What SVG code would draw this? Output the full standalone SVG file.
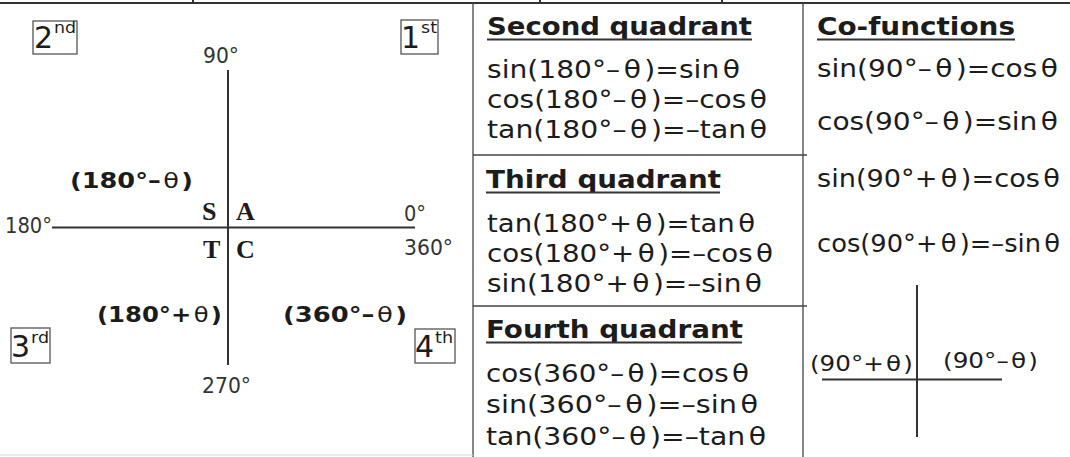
<svg xmlns="http://www.w3.org/2000/svg" width="1070" height="457" viewBox="0 0 1070 457">
<style>
  .ln{stroke:#333;stroke-width:2;fill:none}
  .thin{stroke:#444;stroke-width:1.3;fill:none}
  .box{stroke:#555;stroke-width:1.3;fill:none}
  .eq{font-family:"DejaVu Sans","Verdana",sans-serif;font-size:24px;fill:#1c1c1c}
  .hd{font-family:"DejaVu Sans","Verdana",sans-serif;font-size:24px;font-weight:bold;fill:#1c1c1c}
  .ang{font-family:"DejaVu Sans","Verdana",sans-serif;font-size:21px;fill:#333}
  .bl{font-family:"DejaVu Sans","Verdana",sans-serif;font-size:21px;font-weight:bold;fill:#1c1c1c}
  .lt{font-weight:normal}
  .sr{font-family:"Liberation Serif","Times New Roman",serif;font-size:26px;font-weight:bold;fill:#1c1c1c}
  .big{font-family:"DejaVu Sans","Verdana",sans-serif;font-size:30px;fill:#1c1c1c}
  .sup{font-family:"DejaVu Sans","Verdana",sans-serif;font-size:16px;fill:#1c1c1c}
  .cl{font-family:"DejaVu Sans","Verdana",sans-serif;font-size:22px;fill:#1c1c1c}
</style>
<rect width="1070" height="457" fill="#fff"/>

<g id="frame">
  <line class="ln" x1="0" y1="3" x2="1070" y2="3"/>
  <line class="ln" x1="193" y1="0" x2="193" y2="3"/>
  <line class="ln" x1="540" y1="0" x2="540" y2="3"/>
  <line class="ln" x1="722" y1="0" x2="722" y2="3"/>
  <line class="thin" x1="473" y1="3" x2="473" y2="457"/>
  <line class="thin" x1="803" y1="3" x2="803" y2="457"/>
  <line class="thin" x1="473" y1="155" x2="807" y2="155"/>
  <line class="thin" x1="473" y1="306" x2="807" y2="306"/>
  <line x1="0" y1="455" x2="473" y2="455" stroke="#d6d6d6" stroke-width="1"/>
</g>

<g id="connectors">
  <line class="ln" x1="228" y1="70" x2="228" y2="365"/>
  <line class="ln" x1="52" y1="227.5" x2="415" y2="227.5"/>
  <line class="ln" x1="917" y1="285" x2="917" y2="437"/>
  <line class="ln" x1="822" y1="379.5" x2="1002" y2="379.5"/>
</g>

<g id="axis-labels">
  <text class="ang" x="203" y="63" textLength="36" lengthAdjust="spacingAndGlyphs">90°</text>
  <text class="ang" x="5" y="233" textLength="47" lengthAdjust="spacingAndGlyphs">180°</text>
  <text class="ang" x="404" y="221" textLength="22" lengthAdjust="spacingAndGlyphs">0°</text>
  <text class="ang" x="404" y="255" textLength="49" lengthAdjust="spacingAndGlyphs">360°</text>
  <text class="ang" x="202" y="393" textLength="49" lengthAdjust="spacingAndGlyphs">270°</text>
</g>

<g id="quadrant-2nd">
  <rect class="box" x="33" y="21" width="44" height="33"/>
  <text class="big" x="34" y="48">2</text>
  <text class="sup" x="54" y="33" textLength="22" lengthAdjust="spacingAndGlyphs">nd</text>
</g>
<g id="quadrant-1st">
  <rect class="box" x="401" y="20" width="37" height="34"/>
  <text class="big" x="401" y="48">1</text>
  <text class="sup" x="421" y="33" textLength="16" lengthAdjust="spacingAndGlyphs">st</text>
</g>
<g id="quadrant-3rd">
  <rect class="box" x="11" y="328" width="39" height="35"/>
  <text class="big" x="11" y="357">3</text>
  <text class="sup" x="31" y="343" textLength="18" lengthAdjust="spacingAndGlyphs">rd</text>
</g>
<g id="quadrant-4th">
  <rect class="box" x="415" y="329" width="40" height="34"/>
  <text class="big" x="415" y="357">4</text>
  <text class="sup" x="435" y="343" textLength="18" lengthAdjust="spacingAndGlyphs">th</text>
</g>

<g id="astc">
  <text class="sr" x="202" y="220">S</text>
  <text class="sr" x="236" y="220">A</text>
  <text class="sr" x="203" y="258">T</text>
  <text class="sr" x="236" y="258">C</text>
</g>

<g id="angle-forms">
  <text class="bl" x="70" y="188" textLength="123" lengthAdjust="spacingAndGlyphs">(180°–<tspan class="lt" dx="2">θ</tspan><tspan dx="2">)</tspan></text>
  <text class="bl" x="97" y="322" textLength="125" lengthAdjust="spacingAndGlyphs">(180°+<tspan class="lt" dx="2">θ</tspan><tspan dx="2">)</tspan></text>
  <text class="bl" x="283" y="322" textLength="124" lengthAdjust="spacingAndGlyphs">(360°–<tspan class="lt" dx="2">θ</tspan><tspan dx="2">)</tspan></text>
</g>

<g id="second-quadrant">
  <text class="hd" x="487" y="35" textLength="265" lengthAdjust="spacingAndGlyphs">Second quadrant</text>
  <line class="ln" x1="487" y1="39.5" x2="752" y2="39.5"/>
  <text class="eq" x="487" y="78" textLength="253" lengthAdjust="spacingAndGlyphs">sin(180°–<tspan dx="3">θ</tspan><tspan dx="3">)</tspan>=sin<tspan dx="3">θ</tspan></text>
  <text class="eq" x="487" y="108" textLength="280" lengthAdjust="spacingAndGlyphs">cos(180°–<tspan dx="3">θ</tspan><tspan dx="3">)</tspan>=–cos<tspan dx="3">θ</tspan></text>
  <text class="eq" x="487" y="138" textLength="280" lengthAdjust="spacingAndGlyphs">tan(180°–<tspan dx="3">θ</tspan><tspan dx="3">)</tspan>=–tan<tspan dx="3">θ</tspan></text>
</g>

<g id="third-quadrant">
  <text class="hd" x="486" y="188" textLength="235" lengthAdjust="spacingAndGlyphs">Third quadrant</text>
  <line class="ln" x1="486" y1="192.5" x2="720" y2="192.5"/>
  <text class="eq" x="487" y="232" textLength="268" lengthAdjust="spacingAndGlyphs">tan(180°+<tspan dx="3">θ</tspan><tspan dx="3">)</tspan>=tan<tspan dx="3">θ</tspan></text>
  <text class="eq" x="487" y="262" textLength="286" lengthAdjust="spacingAndGlyphs">cos(180°+<tspan dx="3">θ</tspan><tspan dx="3">)</tspan>=–cos<tspan dx="3">θ</tspan></text>
  <text class="eq" x="487" y="292" textLength="275" lengthAdjust="spacingAndGlyphs">sin(180°+<tspan dx="3">θ</tspan><tspan dx="3">)</tspan>=–sin<tspan dx="3">θ</tspan></text>
</g>

<g id="fourth-quadrant">
  <text class="hd" x="486" y="338" textLength="257" lengthAdjust="spacingAndGlyphs">Fourth quadrant</text>
  <line class="ln" x1="486" y1="342.5" x2="742" y2="342.5"/>
  <text class="eq" x="486" y="382" textLength="263" lengthAdjust="spacingAndGlyphs">cos(360°–<tspan dx="3">θ</tspan><tspan dx="3">)</tspan>=cos<tspan dx="3">θ</tspan></text>
  <text class="eq" x="486" y="413" textLength="272" lengthAdjust="spacingAndGlyphs">sin(360°–<tspan dx="3">θ</tspan><tspan dx="3">)</tspan>=–sin<tspan dx="3">θ</tspan></text>
  <text class="eq" x="486" y="445" textLength="280" lengthAdjust="spacingAndGlyphs">tan(360°–<tspan dx="3">θ</tspan><tspan dx="3">)</tspan>=–tan<tspan dx="3">θ</tspan></text>
</g>

<g id="co-functions">
  <text class="hd" x="817" y="35" textLength="198" lengthAdjust="spacingAndGlyphs">Co-functions</text>
  <line class="ln" x1="817" y1="39.5" x2="1015" y2="39.5"/>
  <text class="eq" x="817" y="77" textLength="241" lengthAdjust="spacingAndGlyphs">sin(90°–<tspan dx="3">θ</tspan><tspan dx="3">)</tspan>=cos<tspan dx="3">θ</tspan></text>
  <text class="eq" x="817" y="130" textLength="241" lengthAdjust="spacingAndGlyphs">cos(90°–<tspan dx="3">θ</tspan><tspan dx="3">)</tspan>=sin<tspan dx="3">θ</tspan></text>
  <text class="eq" x="817" y="187" textLength="243" lengthAdjust="spacingAndGlyphs">sin(90°+<tspan dx="3">θ</tspan><tspan dx="3">)</tspan>=cos<tspan dx="3">θ</tspan></text>
  <text class="eq" x="817" y="252" textLength="243" lengthAdjust="spacingAndGlyphs">cos(90°+<tspan dx="3">θ</tspan><tspan dx="3">)</tspan>=–sin<tspan dx="3">θ</tspan></text>
</g>

<g id="cofunction-cross">
  <text class="cl" x="810" y="371" textLength="103" lengthAdjust="spacingAndGlyphs">(90°+<tspan dx="2">θ</tspan><tspan dx="2">)</tspan></text>
  <text class="cl" x="943" y="368" textLength="95" lengthAdjust="spacingAndGlyphs">(90°–<tspan dx="2">θ</tspan><tspan dx="2">)</tspan></text>
</g>
</svg>
